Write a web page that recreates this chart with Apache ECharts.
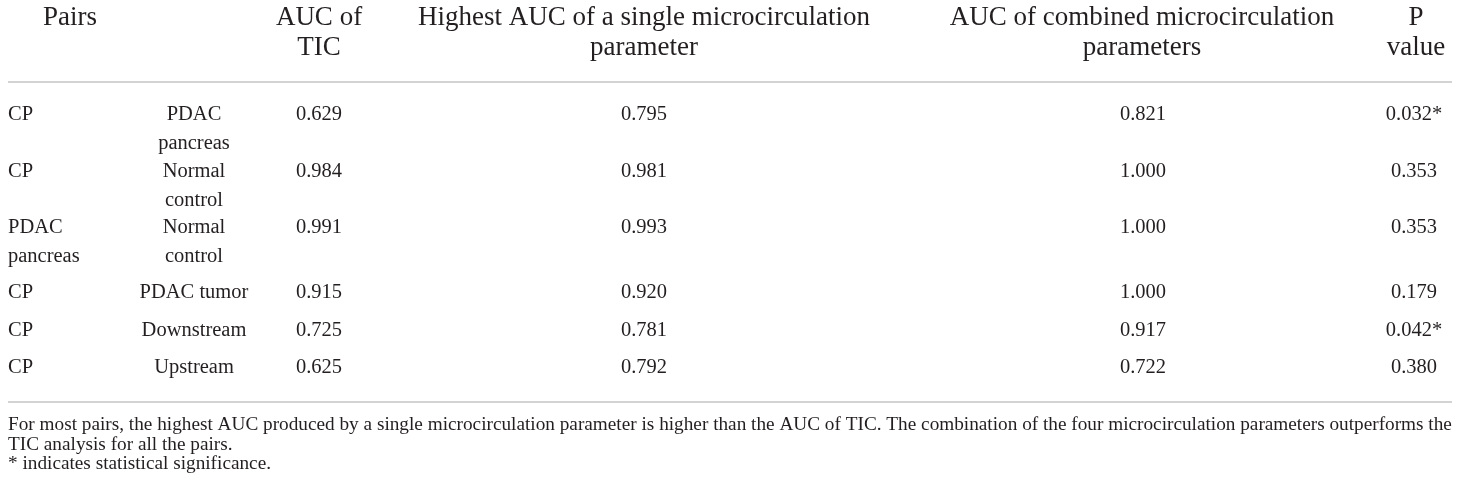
<!DOCTYPE html>
<html>
<head>
<meta charset="utf-8">
<title>AUC comparison table</title>
<script src="https://cdn.jsdelivr.net/npm/echarts@6/dist/echarts.min.js"></script>
<style>
  html, body { margin: 0; padding: 0; background: #fff; }
  #main { width: 1460px; height: 493px; }
</style>
</head>
<body>
<div id="main"></div>
<script>
// table data
var pairA = ['CP', 'CP', 'PDAC\npancreas', 'CP', 'CP', 'CP'];
var pairB = ['PDAC\npancreas', 'Normal\ncontrol', 'Normal\ncontrol', 'PDAC tumor', 'Downstream', 'Upstream'];
var aucTic = [0.629, 0.984, 0.991, 0.915, 0.725, 0.625];
var aucSingleBest = [0.795, 0.981, 0.993, 0.920, 0.781, 0.792];
var aucCombined = [0.821, 1.000, 1.000, 1.000, 0.917, 0.722];
var pValues = [0.032, 0.353, 0.353, 0.179, 0.042, 0.380];
var headers = ['Pairs', 'AUC of\nTIC', 'Highest AUC of a single microcirculation\nparameter', 'AUC of combined microcirculation\nparameters', 'P\nvalue'];
var footnotes = [
    'For most pairs, the highest AUC produced by a single microcirculation parameter is higher than the AUC of TIC. The combination of the four microcirculation parameters outperforms the',
    'TIC analysis for all the pairs.',
    '* indicates statistical significance.'
];

// layout (in chart pixels, axes run 0..1460 and 0..493)
var colX = [8, 194, 319, 644, 1143, 1414];
var headX = [70, 319, 644, 1142, 1416];
var rowY = [115, 172, 228, 293, 331, 368];
var headY = 18;
var ruleY = [82, 402];
var noteY = 425;
var FONT = '"Liberation Serif", "DejaVu Serif", serif';
var INK = '#231f20';

function fmt(v) { return v.toFixed(3); }
function pText(v) { return fmt(v) + (v < 0.05 ? '*' : ''); }

var chart = echarts.init(document.getElementById('main'));

function txt(api, x, y, s, align, size, lh) {
    var p = api.coord([x, y]);
    return {
        type: 'text',
        style: {
            text: s,
            x: p[0],
            y: p[1] - lh / 2,
            align: align,
            verticalAlign: 'top',
            font: size + 'px ' + FONT,
            lineHeight: lh,
            fill: INK
        }
    };
}

var option = {
    animation: false,
    backgroundColor: '#fff',
    grid: { left: 0, right: 0, top: 0, bottom: 0 },
    xAxis: { type: 'value', min: 0, max: 1460, show: false },
    yAxis: { type: 'value', min: 0, max: 493, inverse: true, show: false },
    series: [
        {
            // header
            type: 'custom',
            silent: true,
            data: [[0, 0]],
            renderItem: function (params, api) {
                var kids = [];
                for (var i = 0; i < headers.length; i++) {
                    kids.push(txt(api, headX[i], headY, headers[i], 'center', 27, 30));
                }
                return { type: 'group', children: kids };
            }
        },
        {
            // rules
            type: 'custom',
            silent: true,
            data: ruleY.map(function (y, i) { return [i, y]; }),
            renderItem: function (params, api) {
                var a = api.coord([8, ruleY[params.dataIndex]]);
                var b = api.coord([1452, ruleY[params.dataIndex]]);
                return {
                    type: 'line',
                    shape: { x1: a[0], y1: a[1], x2: b[0], y2: b[1] },
                    style: { stroke: '#d3d3d3', lineWidth: 2 }
                };
            }
        },
        {
            // body rows
            type: 'custom',
            silent: true,
            data: pairA.map(function (v, i) { return [i, i]; }),
            renderItem: function (params, api) {
                var i = params.dataIndex;
                var y = rowY[i];
                var cells = [pairA[i], pairB[i], fmt(aucTic[i]), fmt(aucSingleBest[i]), fmt(aucCombined[i]), pText(pValues[i])];
                var kids = cells.map(function (s, c) {
                    return txt(api, colX[c], y, s, c === 0 ? 'left' : 'center', 20.5, 28.5);
                });
                return { type: 'group', children: kids };
            }
        },
        {
            // footnotes
            type: 'custom',
            silent: true,
            data: footnotes.map(function (v, i) { return [i, i]; }),
            renderItem: function (params, api) {
                var i = params.dataIndex;
                return txt(api, 8, noteY + i * 19.5, footnotes[i], 'left', 19.25, 19.5);
            }
        }
    ]
};

chart.setOption(option);
</script>
</body>
</html>
